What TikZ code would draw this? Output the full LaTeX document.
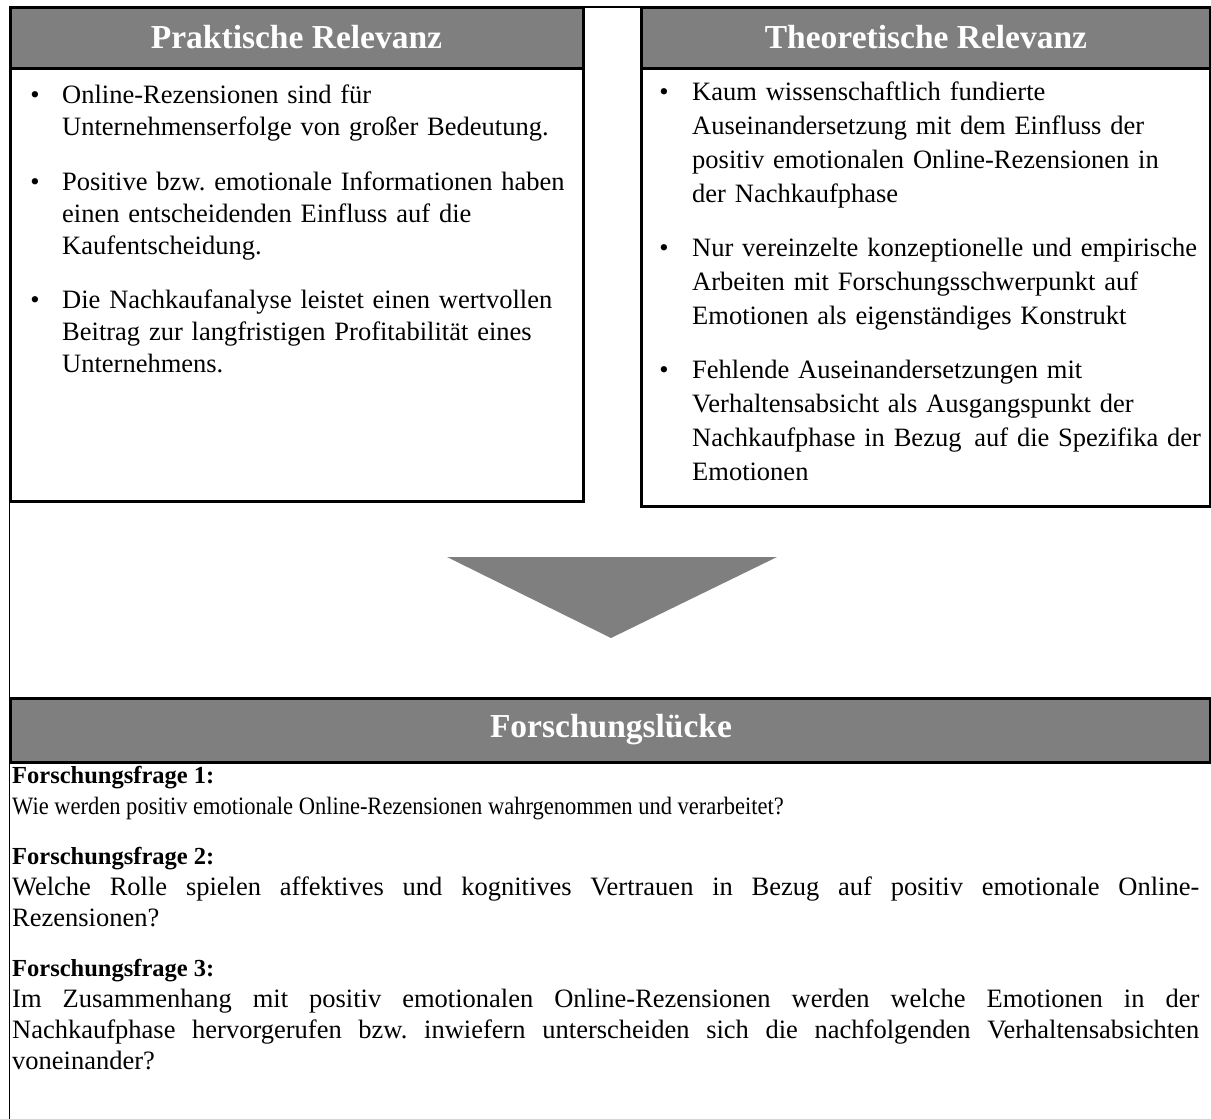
\documentclass[tikz,border=0pt]{standalone}
\usepackage{fontspec}
\setmainfont{Liberation Serif}
\definecolor{hdrgray}{HTML}{7F7F7F}
\hyphenpenalty=10000
\exhyphenpenalty=10000
\frenchspacing
% bold question heading in the research-gap panel
\newcommand{\qheading}[1]{\textbf{\fontsize{24.5}{31.3}\selectfont #1}}
\begin{document}
\begin{tikzpicture}[x=1pt,y=-1pt,
  hdr/.style={fill=hdrgray,draw=black,line width=3pt},
  panel/.style={draw=black,line width=3pt},
  frameline/.style={draw=black,line width=1.5pt},
  title/.style={text=white,inner sep=0pt,font=\fontsize{33.5}{40}\selectfont\bfseries},
  bodyL/.style={font=\fontsize{26.5}{32}\selectfont,inner sep=0pt,anchor=base west,text width=520,align=left},
  bodyR/.style={font=\fontsize{26.5}{34.3}\selectfont,inner sep=0pt,anchor=base west,text width=540,align=left},
  dot/.style={font=\fontsize{26.5}{32}\selectfont,inner sep=0pt,anchor=base},
  question/.style={font=\fontsize{26.5}{31.3}\selectfont,inner sep=0pt,anchor=base west,text width=1187,align=justify},
]
\useasboundingbox (0,0) rectangle (1211,1119);
\fill[white] (0,0) rectangle (1211,1119);

% outer frame
\draw[frameline] (9.5,7) rectangle (1225,1135);

% practical relevance panel
\draw[panel] (10,68) rectangle (583,501);
\draw[hdr] (10,7) rectangle (583,68);
\node[title] (tPrak) at (296.5,37.5) {Praktische Relevanz};

% theoretical relevance panel
\draw[panel] (641,68) rectangle (1210,506);
\draw[hdr] (641,7) rectangle (1210,68);
\node[title] (tTheo) at (926,37.5) {Theoretische Relevanz};

% left bullets
\node[dot] (bl1) at (35,103) {•};
\node[bodyL] (pl1) at (62,103) {Online-Rezensionen sind für\\Unternehmenserfolge von großer Bedeutung.};
\node[dot] (bl2) at (35,190) {•};
\node[bodyL] (pl2) at (62,190) {Positive bzw. emotionale Informationen haben\\einen entscheidenden Einfluss auf die\\Kaufentscheidung.};
\node[dot] (bl3) at (35,308) {•};
\node[bodyL] (pl3) at (62,308) {Die Nachkaufanalyse leistet einen wertvollen\\Beitrag zur langfristigen Profitabilität eines\\Unternehmens.};

% right bullets
\node[dot] (br1) at (664,100) {•};
\node[bodyR] (pr1) at (692,100) {Kaum wissenschaftlich fundierte\\Auseinandersetzung mit dem Einfluss der\\positiv emotionalen Online-Rezensionen in\\der Nachkaufphase};
\node[dot] (br2) at (664,256) {•};
\node[bodyR] (pr2) at (692,256) {Nur vereinzelte konzeptionelle und empirische\\Arbeiten mit Forschungsschwerpunkt auf\\Emotionen als eigenständiges Konstrukt};
\node[dot] (br3) at (664,378) {•};
\node[bodyR] (pr3) at (692,378) {Fehlende Auseinandersetzungen mit\\Verhaltensabsicht als Ausgangspunkt der\\Nachkaufphase in Bezug\kern4pt\ auf die Spezifika der\\Emotionen};

% downward arrow head
\fill[hdrgray] (447,557) -- (777,557) -- (611,638) -- cycle;

% research gap
\draw[hdr] (10,698) rectangle (1210,762);
\node[title] (tGap) at (611,730) {Forschungslücke};

\node[question] (q1) at (12,783) {\qheading{Forschungsfrage 1:}\newline
{\fontsize{25}{31.3}\selectfont\addfontfeature{FakeStretch=0.9}Wie werden positiv emotionale Online-Rezensionen wahrgenommen und verarbeitet?}};
\node[question] (q2) at (12,864) {\qheading{Forschungsfrage 2:}\newline
Welche Rolle spielen affektives und kognitives Vertrauen in Bezug auf positiv emotionale Online-\linebreak Rezensionen?};
\node[question] (q3) at (12,976) {\qheading{Forschungsfrage 3:}\newline
Im Zusammenhang mit positiv emotionalen Online-Rezensionen werden welche Emotionen in der\linebreak
Nachkaufphase hervorgerufen bzw. inwiefern unterscheiden sich die nachfolgenden Verhaltensabsichten\linebreak
voneinander?};
\end{tikzpicture}
\end{document}
